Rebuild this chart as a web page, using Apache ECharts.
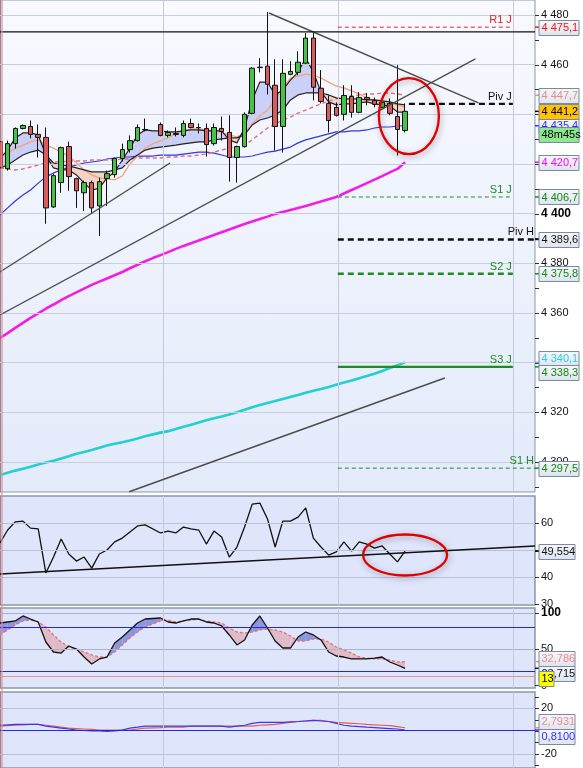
<!DOCTYPE html>
<html>
<head>
<meta charset="utf-8">
<script src="https://cdn.jsdelivr.net/npm/echarts@6.0.0/dist/echarts.min.js"></script>
<style>
html,body{margin:0;padding:0;background:#fff;}
#chart{width:583px;height:768px;}
</style>
</head>
<body>
<div id="chart"></div>
<script>
// ================= DATA =================
const slots = Array.from({length: 71}, (_, i) => String(i)); // candle slots

const open  = [4429.0,4418.1,4428.2,4434.3,4435.1,4431.9,4430.7,4402.7,4412.5,4427.0,4414.1,4408.4,4412.5,4403.1,4414.1,4415.7,4422.2,4425.8,4429.4,4433.9,null,4435.9,4431.5,4432.3,4431.5,4436.3,4434.7,4434.3,4428.2,4434.3,4432.7,4422.6,4427.0,4440.4,4459.0,4459.4,4451.7,4435.1,4456.1,4456.9,4460.6,4470.7,4450.5,4444.4,4442.8,4440.0,4447.2,4440.8,4446.8,4445.6,4442.8,4444.4,4439.1,4433.5];
const close = [4418.5,4428.2,4434.3,4435.5,4431.9,4430.7,4402.3,4415.3,4426.6,4414.9,4409.2,4412.5,4402.3,4412.9,4416.1,4422.2,4425.8,4429.4,4434.7,4433.7,null,4431.5,4432.7,4431.9,4436.3,4434.7,4434.6,4427.8,4434.7,4433.1,4422.6,4427.0,4440.0,4458.6,4458.8,4452.1,4435.1,4456.5,4457.3,4461.0,4470.7,4450.9,4445.2,4437.5,4439.6,4447.6,4440.8,4446.8,4446.0,4444.0,4444.8,4440.4,4433.9,4441.2];
const low   = [4417.3,4417.3,4426.2,4433.9,4430.3,4422.6,4395.9,4402.3,4408.4,4409.2,4402.3,4401.1,4400.3,4391.0,4403.1,4414.5,4421.0,4424.6,4429.0,4433.1,null,4431.1,4430.7,4431.1,4430.7,4434.3,4432.3,4423.0,4427.4,4429.4,4412.9,4412.5,4426.6,4440.0,4456.9,4448.0,4425.4,4424.6,4455.7,4455.7,4460.2,4445.6,4444.4,4432.7,4439.1,4437.5,4438.7,4440.4,4443.6,4442.8,4442.4,4439.6,4423.4,4432.7];
const high  = [4430.3,4429.4,4434.7,4435.9,4437.5,4435.9,4434.7,4416.1,4427.0,4429.0,4414.5,4413.3,4413.3,4414.5,4417.3,4422.6,4428.2,4431.5,4435.9,4438.3,null,4436.7,4433.5,4434.7,4437.5,4438.3,4436.3,4436.3,4436.3,4439.1,4439.6,4427.4,4440.8,4459.0,4462.6,4481.2,4462.2,4462.2,4461.4,4465.4,4472.7,4472.7,4457.8,4447.6,4444.8,4451.7,4451.7,4448.9,4448.5,4446.8,4445.6,4446.4,4459.8,4444.4];

const fastLine = [4422.4,4425.6,4430.5,4432.5,4432.5,4431.7,4423.6,4418.4,4417.6,4417.6,4415.6,4412.3,4409.5,4410.3,4414.4,4416.8,4421.6,4426.4,4431.7,4433.7,4433.3,4433.3,4432.9,4432.9,4433.3,4433.7,4433.7,4433.3,4433.3,4433.3,4429.7,4428.5,4434.5,4445.8,4453.0,4453.0,4447.8,4449.8,4453.8,4457.0,4462.7,4457.0,4449.0,4445.0,4443.8,4444.2,4444.2,4444.6,4445.0,4444.2,4443.8,4443.4,4440.9,4440.9];
const slowLine = [4418.4,4419.6,4421.6,4423.6,4424.8,4425.6,4423.6,4420.4,4419.6,4419.2,4418.4,4417.6,4416.8,4416.8,4416.8,4417.6,4418.4,4421.6,4423.6,4425.6,4426.4,4426.8,4427.2,4427.6,4428.1,4428.5,4428.9,4428.9,4429.7,4430.1,4430.5,4430.5,4431.7,4435.7,4437.7,4438.5,4439.7,4441.7,4445.8,4447.8,4448.6,4448.6,4448.6,4447.8,4446.6,4446.2,4446.2,4446.2,4445.8,4445.8,4445.4,4445.0,4444.2,4443.8];
const maOrange = [4422.8,4424.4,4426.4,4427.6,4428.9,4429.7,4427.6,4426.4,4424.8,4423.2,4420.4,4417.6,4415.6,4414.4,4414.0,4413.6,4415.2,4420.0,4423.2,4426.4,4428.1,4429.3,4430.5,4432.1,4433.3,4434.1,4434.1,4433.7,4433.3,4432.5,4431.7,4430.9,4432.5,4436.1,4439.3,4441.7,4445.8,4450.6,4454.6,4455.4,4456.2,4455.8,4454.6,4453.0,4451.4,4450.6,4449.4,4448.2,4446.6,4445.4,4444.6,4444.2,4443.8,4443.0];
const maRedDash = [4418.4,4418.0,4417.6,4418.0,4418.8,4419.6,4420.4,4420.8,4420.8,4421.2,4421.2,4421.2,4421.6,4421.6,4421.6,4421.6,4422.0,4422.0,4422.4,4422.4,4422.4,4422.4,4422.8,4422.8,4423.2,4423.2,4423.6,4424.0,4424.8,4425.6,4426.4,4426.8,4427.6,4429.7,4432.1,4434.5,4436.1,4437.7,4438.9,4440.5,4441.7,4443.0,4444.2,4445.4,4446.2,4447.0,4447.4,4447.8,4448.2,4448.2,4448.6,4448.6,4448.2,4447.7];
const maBlue = [4399.5,4402.3,4405.1,4407.5,4409.5,4412.3,4414.8,4416.4,4417.6,4418.8,4419.6,4420.4,4420.8,4421.2,4422.0,4422.4,4422.8,4422.8,4423.2,4423.2,4423.2,4423.6,4423.6,4423.6,4424.0,4424.4,4424.8,4424.8,4424.4,4423.6,4422.8,4422.8,4422.8,4423.2,4424.0,4424.8,4425.2,4426.0,4426.8,4428.5,4429.7,4430.5,4431.3,4432.1,4432.9,4432.9,4433.3,4433.3,4433.7,4434.5,4434.9,4434.9,4435.3,4435.4];
const maMagenta = [4349.9,4351.9,4354.0,4356.0,4358.0,4359.8,4361.7,4363.4,4365.2,4366.8,4368.3,4369.8,4371.3,4372.6,4373.9,4375.2,4376.5,4378.0,4379.4,4380.8,4382.1,4383.3,4384.5,4385.8,4387.0,4388.1,4389.2,4390.3,4391.4,4392.5,4393.6,4394.7,4395.8,4396.8,4397.8,4398.8,4399.9,4400.7,4401.5,4402.3,4403.1,4404.0,4404.9,4405.8,4406.7,4408.1,4409.5,4410.9,4412.3,4413.7,4415.1,4416.6,4418.0,4420.7];
const maCyan = [4294.7,4295.6,4296.5,4297.3,4298.1,4299.0,4299.8,4300.5,4301.4,4302.3,4303.3,4304.0,4304.8,4305.7,4306.6,4307.3,4307.9,4308.6,4309.4,4310.3,4311.1,4311.8,4312.4,4313.3,4314.2,4315.0,4315.9,4316.8,4317.6,4318.3,4319.1,4320.0,4321.0,4322.0,4322.9,4323.7,4324.5,4325.3,4326.2,4327.0,4327.9,4328.7,4329.4,4330.2,4331.1,4332.0,4332.8,4333.7,4334.6,4335.5,4336.6,4337.8,4338.9,4340.1];

// trend lines: [slotStart, valueStart, slotEnd, valueEnd]
const trendLines = [
  [0, 4376.5, 22.25, 4420.4],
  [0, 4359.2, 62.2, 4462.3],
  [35.2, 4480.8, 62.6, 4444.6],
  [16.9, 4288.0, 58.2, 4333.8]
];
const resistanceLevel = 4473.2;

const pivotNames  = ['R1 J', 'Piv J', 'S1 J', 'Piv H', 'S2 J', 'S3 J', 'S1 H'];
const pivotValues = [4475.1, 4444.2, 4406.7, 4389.6, 4375.8, 4338.3, 4297.5];
const pivotStart  = [44.2, 53.5, 44.2, 44.2, 44.2, 44.2, 44.2];
const pivotEnd    = [67.1, 67.1, 67.1, 70, 67.1, 67.1, 70];

const rsi = [52.6,57.4,60.4,60.7,58.1,57.8,41.5,47.4,54.1,48.5,45.9,47.4,43.3,48.5,50.0,53.0,54.4,56.7,58.9,59.3,null,56.3,57.0,56.3,58.5,57.8,57.4,52.2,57.0,54.8,47.4,51.1,58.5,67.0,67.4,61.5,51.1,60.7,60.7,62.2,65.6,54.4,51.1,48.1,49.3,53.0,49.6,53.0,52.2,50.7,51.5,48.5,45.6,49.554];
const rsiTrend = [0, 41.1, 70, 51.5];

const stochK = [86.2,87.6,89.0,95.9,91.7,87.6,60.0,46.2,44.8,54.5,50.3,39.3,29.7,36.6,39.3,58.6,66.9,76.6,86.2,91.7,null,93.1,87.6,86.2,89.0,91.7,91.7,87.6,86.2,82.1,69.7,55.9,62.8,83.4,95.9,79.3,61.4,51.7,51.7,66.9,73.8,69.7,62.8,46.2,40.7,39.3,36.6,36.6,36.6,37.9,39.3,32.4,28.3,23.715];
const stochD = [69.7,76.6,83.4,89.0,90.3,87.6,80.7,69.7,60.0,53.1,50.3,46.2,42.1,39.3,39.3,46.2,55.9,65.5,73.8,80.7,null,89.0,90.3,87.6,89.0,90.3,91.7,89.0,87.6,86.2,79.3,73.8,72.4,73.8,76.6,77.9,76.6,73.8,68.3,61.4,61.4,64.1,64.1,60.0,53.1,49.0,44.8,39.3,37.9,36.6,36.6,35.2,32.4,32.786];
const stochLevels = [80, 20, 13];

const macdRed  = [4.2,4.6,5.0,5.4,5.8,5.8,5.0,4.2,3.3,2.5,2.1,1.7,1.3,0.8,0.8,0.8,0.8,0.8,1.7,2.5,null,2.9,3.3,3.3,3.3,4.2,4.2,4.2,4.2,4.2,4.2,4.2,4.2,4.2,5.0,5.4,5.8,6.7,7.5,8.3,8.75,9.2,9.2,8.3,7.5,7.1,6.7,6.3,5.8,5.4,5.0,4.6,3.75,2.7931];
const macdBlue = [5.0,5.4,5.8,5.8,5.8,5.8,4.2,3.3,2.5,1.7,0.8,0.4,0.0,0.0,-0.4,0.0,0.8,2.5,3.3,4.2,null,4.2,4.2,4.2,4.2,4.2,4.2,4.2,4.2,4.2,3.3,4.2,5.0,6.7,7.5,7.5,7.5,7.5,7.9,8.3,8.75,9.2,8.75,8.3,6.7,5.0,4.2,3.75,3.3,2.9,2.5,2.1,1.7,0.81];

// time grid lines (slot positions)
const timeGrid = [21.33, 44.22, 67.12];

// axis ticks / labels
const mainTicks  = [4290,4300,4310,4320,4330,4340,4350,4360,4370,4380,4390,4400,4410,4420,4430,4440,4450,4460,4470,4480];
const mainLabels = [4300,4320,4340,4360,4380,4400,4420,4440,4460,4480];
const rsiTicks = [30, 40, 50, 60];
const stochTicks = [0, 50, 100];
const macdTicks = [-30, -20, -10, 0, 10, 20, 30];
const macdLabels = [-20, 20];

// ================= HELPERS =================
const FONT = 'Liberation Sans, Arial, sans-serif';
const pairs = arr => arr.map((v, i) => [i, v]).filter(p => p[1] != null);
const thou = s => s.length > 3 ? s.slice(0, -3) + ' ' + s.slice(-3) : s;
const fmtInt = v => thou(String(Math.round(v)));
const fmtDec = (v, d) => { const p = v.toFixed(d).split('.'); return thou(p[0]) + ',' + p[1]; };

function line(data, xi, yi, color, width, type, z) {
  return {type: 'line', xAxisIndex: xi, yAxisIndex: yi, data: pairs(data), symbol: 'none',
    lineStyle: {color, width, type: type || 'solid'}, z: z || 3, silent: true, connectNulls: true, animation: false};
}
function seg(x1, y1, x2, y2, xi, yi, color, width, type, z) {
  return {type: 'line', xAxisIndex: xi, yAxisIndex: yi, data: [[x1, y1], [x2, y2]], symbol: 'none',
    lineStyle: {color, width, type: type || 'solid'}, z: z || 6, silent: true, animation: false};
}
function band(A, B, xi, yi, upColor, downColor, z) {
  const segs = [];
  for (let i = 0; i < A.length - 1; i++) {
    let j = i + 1;
    if (A[i] == null || B[i] == null) continue;
    while (j < A.length && (A[j] == null || B[j] == null)) j++;
    if (j >= A.length) break;
    segs.push([i, j, A[i], A[j], B[i], B[j]]);
  }
  return {type: 'custom', xAxisIndex: xi, yAxisIndex: yi, z: z || 2, silent: true, animation: false,
    data: segs, encode: {x: 0, y: 2},
    renderItem(params, api) {
      const i = api.value(0), j = api.value(1), a0 = api.value(2), a1 = api.value(3), b0 = api.value(4), b1 = api.value(5);
      const P = (x, y) => api.coord([x, y]);
      const d0 = a0 - b0, d1 = a1 - b1;
      const ch = [];
      if (d0 * d1 >= 0) {
        ch.push({type: 'polygon', shape: {points: [P(i, a0), P(j, a1), P(j, b1), P(i, b0)]}, style: {fill: (d0 + d1) >= 0 ? upColor : downColor}});
      } else {
        const t = d0 / (d0 - d1), xm = i + (j - i) * t, ym = a0 + (a1 - a0) * t;
        ch.push({type: 'polygon', shape: {points: [P(i, a0), P(xm, ym), P(i, b0)]}, style: {fill: d0 > 0 ? upColor : downColor}});
        ch.push({type: 'polygon', shape: {points: [P(xm, ym), P(j, a1), P(j, b1)]}, style: {fill: d1 > 0 ? upColor : downColor}});
      }
      return {type: 'group', children: ch};
    }};
}
function gridLines(xi, yi, hVals, hColor, extra) {
  const d = hVals.map(v => ({yAxis: v, lineStyle: {color: hColor, width: 1, type: 'solid'}}))
    .concat(timeGrid.map(v => ({xAxis: v, lineStyle: {color: '#c3cadb', width: 1, type: 'solid'}})))
    .concat(extra || []);
  return {type: 'line', xAxisIndex: xi, yAxisIndex: yi, data: [], z: 1, silent: true,
    markLine: {silent: true, symbol: ['none', 'none'], label: {show: false}, animation: false, data: d}};
}
function yAx(g, min, max, labels, boldVal, fmt) {
  return {type: 'value', gridIndex: g, position: 'right', min, max,
    axisLine: {show: true, lineStyle: {color: '#7d8ea3', width: 1}},
    axisTick: {show: false},
    minorTick: {show: false},
    axisLabel: {show: true, customValues: labels, margin: 6, color: '#111', fontSize: 11, fontFamily: FONT,
      formatter: v => (v === boldVal ? '{b|' + fmt(v) + '}' : fmt(v)),
      rich: {b: {fontWeight: 'bold', fontSize: 12, color: '#000', fontFamily: FONT}}},
    splitLine: {show: false}};
}
const hiddenAxis = {show: false, axisLine: {show: false}, axisTick: {show: false}, axisLabel: {show: false}, splitLine: {show: false}};

// ================= OPTION =================
const subBg = '#dfe6fb';
const panelBorder = '#8a99ab';
const candleData = open.map((o, i) => (o == null ? '-' : [o, close[i], low[i], high[i]]));

const option = {
  animation: false,
  backgroundColor: '#ffffff',
  textStyle: {fontFamily: FONT},
  grid: [
    {left: 0, top: 0, width: 535, height: 492, show: true, borderColor: panelBorder, borderWidth: 1,
      backgroundColor: {type: 'linear', x: 0, y: 0, x2: 0, y2: 1, colorStops: [{offset: 0, color: '#f8faff'}, {offset: 1, color: '#e3eafa'}]}},
    {left: 0, top: 496, width: 535, height: 109, show: true, borderColor: panelBorder, borderWidth: 1.5, backgroundColor: subBg},
    {left: 0, top: 608, width: 535, height: 80, show: true, borderColor: panelBorder, borderWidth: 1.5, backgroundColor: subBg},
    {left: 0, top: 692, width: 535, height: 80, show: true, borderColor: panelBorder, borderWidth: 1.5, backgroundColor: subBg}
  ],
  xAxis: [
    ...[0, 1, 2, 3].map(g => Object.assign({type: 'category', gridIndex: g, data: slots, boundaryGap: false}, hiddenAxis)),
    ...[0, 1, 2, 3].map(g => Object.assign({type: 'value', gridIndex: g, min: 0, max: 70}, hiddenAxis))
  ],
  yAxis: [
    yAx(0, 4287.89, 4486.04, mainLabels, 4400, fmtInt),
    yAx(1, 29.63, 70, rsiTicks, null, fmtInt),
    yAx(2, -3.45, 106.9, stochTicks, 100, fmtInt),
    yAx(3, -32.5, 34.17, macdLabels, null, fmtInt)
  ],
  series: [
    // grid lines
    gridLines(4, 0, mainLabels, '#c8cedd'),
    gridLines(5, 1, [40, 50, 60], '#b9c2d6'),
    gridLines(6, 2, [100, 50], '#aab3c6', [
      {yAxis: stochLevels[0], lineStyle: {color: '#2626e0', width: 1.2, type: 'solid'}},
      {yAxis: stochLevels[1], lineStyle: {color: '#2626e0', width: 1.2, type: 'solid'}},
      {yAxis: stochLevels[2], lineStyle: {color: '#ee9090', width: 1.2, type: 'solid'}}
    ]),
    gridLines(7, 3, [20, -20], '#b9c2d6', [{yAxis: 0.6, lineStyle: {color: '#2626e0', width: 1.2, type: 'solid'}}]),

    // main panel indicators
    band(fastLine, slowLine, 4, 0, 'rgba(160,168,240,0.5)', 'rgba(245,175,145,0.5)', 2),
    line(maCyan, 4, 0, '#22d0d0', 2.6),
    line(maMagenta, 4, 0, '#f21ee6', 2.6),
    line(maBlue, 4, 0, '#3434e6', 1.2),
    line(maRedDash, 4, 0, '#e27272', 1.4, [4, 3]),
    line(maOrange, 4, 0, '#f6a47a', 1.4),
    line(slowLine, 4, 0, '#222', 1.2),
    line(fastLine, 4, 0, '#222', 1.2),
    {type: 'candlestick', xAxisIndex: 0, yAxisIndex: 0, data: candleData, barWidth: 5, z: 5, silent: true,
      itemStyle: {color: '#46c246', color0: '#d95c5c', borderColor: '#111', borderColor0: '#111', borderWidth: 1}},

    // trend lines & levels
    ...trendLines.map(t => seg(t[0], t[1], t[2], t[3], 4, 0, '#4d4d4d', 1.4)),
    seg(0, resistanceLevel, 70, resistanceLevel, 4, 0, '#111', 1.2),
    seg(pivotStart[0], pivotValues[0], pivotEnd[0], pivotValues[0], 4, 0, '#ee2020', 1, [4, 3]),
    seg(pivotStart[1], pivotValues[1], pivotEnd[1], pivotValues[1], 4, 0, '#111', 2.4, [6, 4]),
    seg(pivotStart[2], pivotValues[2], pivotEnd[2], pivotValues[2], 4, 0, '#1e8c1e', 1, [4, 3]),
    seg(pivotStart[3], pivotValues[3], pivotEnd[3], pivotValues[3], 4, 0, '#111', 2.4, [6, 4]),
    seg(pivotStart[4], pivotValues[4], pivotEnd[4], pivotValues[4], 4, 0, '#1e8c1e', 2.4, [6, 4]),
    seg(pivotStart[5], pivotValues[5], pivotEnd[5], pivotValues[5], 4, 0, '#1e8c1e', 2.4),
    seg(pivotStart[6], pivotValues[6], pivotEnd[6], pivotValues[6], 4, 0, '#1e8c1e', 1, [4, 3]),

    // RSI
    seg(rsiTrend[0], rsiTrend[1], rsiTrend[2], rsiTrend[3], 5, 1, '#111', 1.5),
    line(rsi, 5, 1, '#111', 1.3),

    // Stochastic
    band(stochK, stochD, 6, 2, '#8c96dc', '#e0bac6', 2),
    line(stochD, 6, 2, '#e27272', 1.3, [3, 2]),
    line(stochK, 6, 2, '#111', 1.3),

    // MACD
    line(macdRed, 7, 3, '#e85a5a', 1.2),
    line(macdBlue, 7, 3, '#3a3ae8', 1.2)
  ]
};

const chart = echarts.init(document.getElementById('chart'), null, {renderer: 'canvas'});
chart.setOption(option);

// ================= ANNOTATIONS =================
const xPix = (xi, v) => chart.convertToPixel({xAxisIndex: xi}, v);
const yPix = (yi, v) => chart.convertToPixel({yAxisIndex: yi}, v);
const boxFill = new echarts.graphic.LinearGradient(0, 0, 0, 1, [{offset: 0, color: '#f6f8fc'}, {offset: 1, color: '#dde3ee'}]);
const G = [];
let zc = 100;

// axis tick marks on the right-hand scales
[[0, mainTicks], [1, rsiTicks], [2, stochTicks], [3, macdTicks]].forEach(([yi, ticks]) => {
  ticks.forEach(t => {
    const y = Math.round(yPix(yi, t)) + 0.5;
    G.push({type: 'line', silent: true, z: 20, shape: {x1: 535, y1: y, x2: 539, y2: y}, style: {stroke: '#333', lineWidth: 1}});
  });
});

// session separator
G.push({type: 'line', silent: true, z: 20, shape: {x1: 2, y1: 0, x2: 2, y2: 768}, style: {stroke: '#f08a8a', lineWidth: 1.2}});

// pivot labels
const pivotColors = ['#ee2020', '#111', '#1e8c1e', '#111', '#1e8c1e', '#1e8c1e', '#1e8c1e'];
pivotNames.forEach((n, k) => {
  G.push({type: 'text', silent: true, z: 60, style: {text: n, x: xPix(4, pivotEnd[k]) - 1, y: yPix(0, pivotValues[k]) - 7,
    fill: pivotColors[k], font: '11px ' + FONT, align: 'right', verticalAlign: 'middle', textAlign: 'right', textVerticalAlign: 'middle'}});
});

// ellipses
function ell(xi, yi, xv, yv, rx, ry) {
  G.push({type: 'ellipse', silent: true, z: 80, shape: {cx: xPix(xi, xv), cy: yPix(yi, yv), rx, ry},
    style: {fill: 'rgba(0,0,0,0)', stroke: '#e00000', lineWidth: 2.3, shadowBlur: 6, shadowColor: 'rgba(0,0,0,0.35)', shadowOffsetX: 1, shadowOffsetY: 2}});
}
ell(4, 0, 53.5, 4439.3, 30, 38);
ell(5, 1, 53.0, 48.15, 42, 20.5);

// value boxes on the right axis
function box(yi, val, text, color, fill, dy, w, tickColor) {
  const cy = yPix(yi, val) + (dy || 0);
  const width = w || 40;
  if (tickColor) G.push({type: 'line', silent: true, z: zc++, shape: {x1: 535, y1: yPix(yi, val), x2: 539, y2: yPix(yi, val)}, style: {stroke: tickColor, lineWidth: 1.5}});
  G.push({type: 'rect', silent: true, z: zc++, shape: {x: 539, y: Math.round(cy - 7.5) + 0.5, width, height: 15},
    style: {fill: fill || boxFill, stroke: '#7a8ba0', lineWidth: 1}});
  G.push({type: 'text', silent: true, z: zc++, style: {text, x: 541.5, y: cy + 0.5, fill: color, font: '11px ' + FONT,
    align: 'left', verticalAlign: 'middle', textAlign: 'left', textVerticalAlign: 'middle'}});
}
box(0, 4475.1, fmtDec(4475.1, 1), '#ff1010', null, 0, 40, '#ff1010');
box(0, 4447.7, fmtDec(4447.7, 1), '#f08a8a', null, 0, 40, '#f08a8a');
box(0, 4435.4, fmtDec(4435.4, 1), '#2a2aff', null, 0, 40, '#2a2aff');
box(0, 4441.2, fmtDec(4441.2, 1), '#000', '#ffc300', 0, 40, '#000');
box(0, 4435.4, '48m45s', '#000', '#8fe88f', 9, 40, null);
box(0, 4420.7, fmtDec(4420.7, 1), '#ff00ff', null, 0, 40, '#ff00ff');
box(0, 4406.7, fmtDec(4406.7, 1), '#128a12', null, 0, 40, '#128a12');
box(0, 4389.6, fmtDec(4389.6, 1), '#111', null, 0, 40, '#111');
box(0, 4375.8, fmtDec(4375.8, 1), '#128a12', null, 0, 40, '#128a12');
box(0, 4340.1, fmtDec(4340.1, 1), '#30cde0', null, -4, 40, '#30cde0');
box(0, 4338.3, fmtDec(4338.3, 1), '#128a12', null, 6, 40, '#128a12');
box(0, 4297.5, fmtDec(4297.5, 1), '#128a12', null, 0, 40, '#128a12');
box(1, 49.554, fmtDec(49.554, 3), '#111', null, 0, 36, '#111');
box(2, 32.786, fmtDec(32.786, 3), '#f08a8a', null, -3.5, 36, '#f08a8a');
box(2, 23.715, fmtDec(23.715, 3), '#111', null, 5, 36, '#111');
box(2, 13, '13', '#000', '#ffff00', 2, 15, null);
box(3, 2.7931, fmtDec(2.7931, 4), '#f08a8a', null, -6, 36, '#f08a8a');
box(3, 0.81, fmtDec(0.81, 4), '#3030ff', null, 6, 36, '#3030ff');

chart.setOption({graphic: {elements: G}});
</script>
</body>
</html>
